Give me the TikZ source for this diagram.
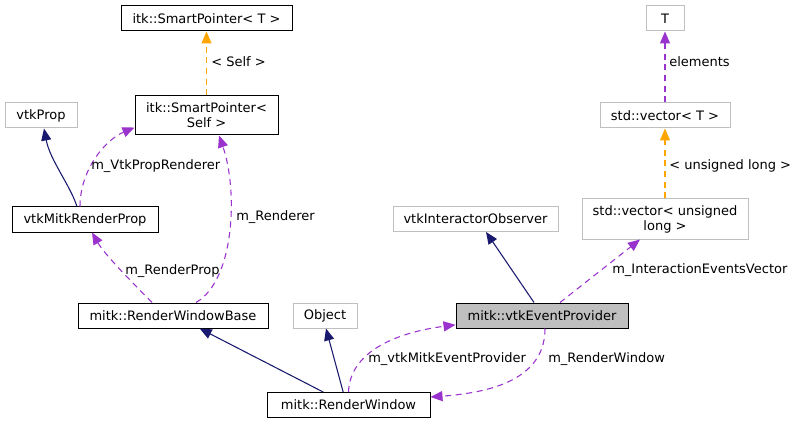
\documentclass[tikz,border=0pt]{standalone}
\usepackage{fontspec}
\setmainfont{DejaVu Sans}
\usetikzlibrary{arrows.meta}
\definecolor{edgepurple}{HTML}{9A32CD}
\definecolor{edgenavy}{HTML}{191970}
\definecolor{edgeorange}{HTML}{FFA500}
\definecolor{boxgray}{HTML}{BFBFBF}

\begin{document}
\begin{tikzpicture}[x=0.75pt,y=-0.75pt,font=\fontsize{9.75}{11.25}\selectfont,
    cls/.style={draw=black,line width=0.75pt,fill=white,inner sep=0pt,minimum height=18.75pt},
    ext/.style={cls,draw=boxgray},
    cur/.style={cls,fill=boxgray},
    lbl/.style={anchor=west,inner sep=0pt},
    inhedge/.style={draw=edgenavy,line width=0.8pt,-{Triangle[length=9pt,width=7.5pt]}},
    memedge/.style={draw=edgepurple,line width=0.8pt,dash pattern=on 4.5pt off 3.5pt,-{Triangle[length=9pt,width=7.5pt]}},
    tpledge/.style={memedge,draw=edgeorange}]
    \useasboundingbox [fill=white] (0,0) rectangle (796,424);

    \node (spT) [cls, minimum width=128.25pt] at (206.5,18.5) {itk::SmartPointer< T >};
    \node (spSelf) [cls, minimum width=107.25pt, minimum height=29.25pt, align=center] at (206.5,115.5) {itk::SmartPointer<\\Self >};
    \node (vtkProp) [ext, minimum width=54pt] at (41,115.5) {vtkProp};
    \node (vmrp) [cls, minimum width=109.5pt] at (85,219.5) {vtkMitkRenderProp};
    \node (rwb) [cls, minimum width=142.5pt] at (173,315.5) {mitk::RenderWindowBase};
    \node (obj) [ext, minimum width=48pt] at (325,315.5) {Object};
    \node (rw) [cls, minimum width=122.25pt] at (348.5,405) {mitk::RenderWindow};
    \node (vep) [cur, minimum width=129pt] at (542,315.5) {mitk::vtkEventProvider};
    \node (vio) [ext, minimum width=123.75pt] at (475.5,219) {vtkInteractorObserver};
    \node (svul) [ext, minimum width=124.5pt, minimum height=30pt, align=center] at (665,219) {std::vector< unsigned\\long >};
    \node (svT) [ext, minimum width=97.5pt] at (665,115.5) {std::vector< T >};
    \node (T) [ext, minimum width=28.5pt] at (665,18.5) {T};

    \draw [tpledge] (spSelf) -- (spT);
    \draw [inhedge] ([xshift=-6pt]vmrp.north) .. controls (70,185) and (50,160) .. ([xshift=2.25pt]vtkProp.south);
    \draw [memedge] ([xshift=-3.75pt]vmrp.north) .. controls (80,170) and (105,140) .. ([yshift=-9pt]spSelf.west);
    \draw [memedge] ([xshift=17.25pt]rwb.north) .. controls (235,280) and (238,190) .. ([xshift=9.4pt]spSelf.south);
    \draw [memedge] ([xshift=-15.75pt]rwb.north) .. controls (130,280) and (105,255) .. ([xshift=5.25pt]vmrp.south);
    \draw [inhedge] ([xshift=-19pt]rw.north) -- ([xshift=20pt]rwb.south);
    \draw [inhedge] ([xshift=-4pt]rw.north) -- ([xshift=0.75pt]obj.south);
    \draw [memedge] (rw.north) .. controls (350,350) and (400,332) .. ([yshift=-7pt]vep.west);
    \draw [memedge] ([xshift=2.25pt]vep.south) .. controls (545,375) and (500,392) .. ([yshift=6pt]rw.east);
    \draw [inhedge] ([xshift=-6pt]vep.north) -- ([xshift=7.9pt]vio.south);
    \draw [memedge] ([xshift=13.5pt]vep.north) -- ([xshift=-18.75pt]svul.south);
    \draw [tpledge] (svul) -- (svT);
    \draw [memedge] (svT) -- (T);

    \node (lSelf) [lbl] at (211,62) {< Self >};
    \node (lVtkProp) [lbl] at (91,166) {m\_VtkPropRenderer};
    \node (lRenderer) [lbl] at (236,217) {m\_Renderer};
    \node (lRenderProp) [lbl] at (125,271) {m\_RenderProp};
    \node (lEventProv) [lbl] at (368,359) {m\_vtkMitkEventProvider};
    \node (lRenderWin) [lbl] at (548,359) {m\_RenderWindow};
    \node (lEventsVec) [lbl] at (612,270) {m\_InteractionEventsVector};
    \node (lULong) [lbl] at (669,166) {< unsigned long >};
    \node (lElements) [lbl] at (669,62) {elements};
\end{tikzpicture}
\end{document}
